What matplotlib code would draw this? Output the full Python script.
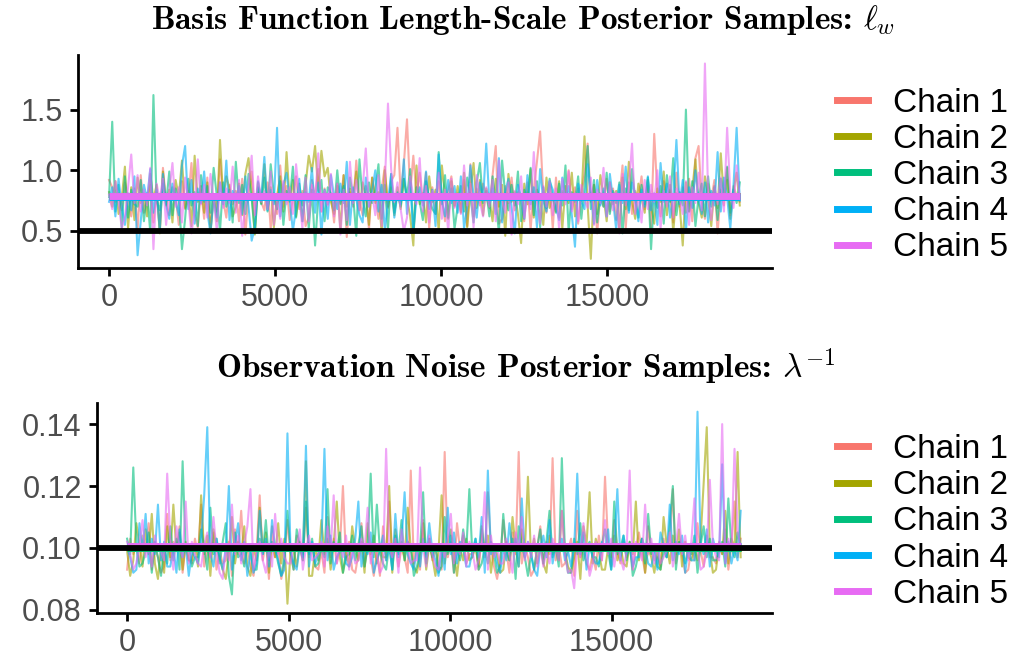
import numpy as np
import matplotlib
matplotlib.use("Agg")
import matplotlib.pyplot as plt
from matplotlib.lines import Line2D

chain_names = ["Chain 1", "Chain 2", "Chain 3", "Chain 4", "Chain 5"]
chain_colors = ["#F8766D", "#A3A500", "#00BF7D", "#00B0F6", "#E76BF3"]
n_iter = 19000

top_title = r"Basis Function Length-Scale Posterior Samples: $\ell_w$"
bottom_title = r"Observation Noise Posterior Samples: $\lambda^{-1}$"
top_true = 0.5
bottom_true = 0.10
top_yticks = [0.5, 1.0, 1.5]
top_yticklabels = ["0.5", "1.0", "1.5"]
bottom_yticks = [0.08, 0.10, 0.12, 0.14]
bottom_yticklabels = ["0.08", "0.10", "0.12", "0.14"]
xticks = [0, 5000, 10000, 15000]

# length-scale samples (thinned), one list per chain
ls_chain1 = [0.92, 0.86, 0.74, 0.81, 0.67, 0.90, 0.77, 0.62, 0.85, 0.51,
             0.96, 0.65, 0.78, 0.88, 0.57, 0.82, 0.50, 1.02, 0.74, 0.63,
             0.86, 0.79, 0.55, 0.91, 0.68, 0.76, 1.06, 0.64, 0.53, 0.84,
             0.60, 0.94, 0.49, 0.80, 0.66, 1.09, 0.75, 0.61, 0.88, 0.72,
             0.83, 0.58, 0.93, 0.47, 0.79, 0.99, 0.63, 0.86, 0.74, 0.67,
             0.90, 0.52, 0.81, 0.64, 1.04, 0.70, 0.87, 0.59, 0.78, 0.95,
             0.68, 0.83, 0.54, 0.61, 0.92, 0.77, 1.01, 0.66, 0.85, 0.72,
             0.80, 0.57, 0.89, 0.73, 0.96, 0.45, 0.82, 0.70, 1.08, 0.76,
             0.63, 0.87, 0.51, 0.94, 0.79, 0.60, 0.84, 1.03, 0.69, 0.91,
             0.96, 1.35, 0.80, 1.05, 1.42, 0.82, 1.12, 0.79, 0.98, 0.74,
             0.98, 0.52, 0.86, 0.64, 0.91, 0.77, 0.58, 0.83, 0.95, 0.70,
             0.81, 0.66, 0.92, 0.54, 1.05, 0.62, 0.85, 0.71, 0.89, 0.78,
             0.69, 0.96, 1.20, 0.56, 0.60, 0.87, 0.73, 0.94, 0.67, 0.82,
             0.75, 0.58, 0.90, 0.51, 0.84, 1.07, 1.32, 0.79, 0.65, 0.88,
             0.52, 0.94, 0.61, 0.83, 0.77, 1.00, 0.68, 0.86, 0.56, 0.80,
             0.97, 1.22, 0.74, 0.88, 0.48, 0.81, 0.70, 0.93, 0.66, 0.85,
             0.59, 0.78, 1.04, 0.52, 0.90, 0.64, 0.83, 0.76, 0.95, 0.68,
             0.87, 0.53, 1.30, 0.80, 0.62, 0.91, 0.75, 0.84, 0.57, 0.98,
             0.70, 0.86, 0.65, 0.93, 0.58, 1.10, 1.20, 0.74, 0.60, 0.89,
             0.76, 0.92, 0.48, 0.84, 0.71, 1.02, 0.63, 0.87, 0.79, 0.74]
ls_chain2 = [0.82, 0.70, 0.91, 0.64, 0.77, 1.03, 0.52, 0.86, 0.59, 0.94,
             0.73, 0.81, 0.62, 0.97, 0.76, 0.88, 0.48, 0.99, 0.71, 0.84,
             0.57, 0.92, 0.78, 1.08, 0.69, 0.83, 0.54, 1.12, 0.74, 0.87,
             0.65, 0.90, 0.50, 0.80, 0.58, 1.25, 0.76, 0.95, 0.85, 0.62,
             0.70, 0.89, 0.63, 0.97, 1.10, 0.82, 0.47, 0.90, 0.73, 1.05,
             0.68, 0.86, 0.53, 0.79, 0.95, 0.66, 1.15, 0.74, 0.92, 0.62,
             0.81, 0.58, 0.88, 1.12, 0.99, 1.20, 0.83, 1.16, 0.95, 1.02,
             0.74, 0.64, 0.87, 0.51, 0.96, 0.70, 0.85, 0.75, 0.99, 0.67,
             0.90, 0.78, 0.55, 0.94, 0.73, 0.82, 0.49, 1.00, 0.70, 0.86,
             0.63, 0.86, 0.68, 0.93, 0.77, 0.62, 0.38, 1.04, 0.72, 0.81,
             0.57, 0.95, 0.74, 0.84, 0.50, 1.04, 0.79, 0.60, 0.91, 0.71,
             0.87, 0.65, 0.98, 0.53, 0.83, 1.06, 0.69, 0.92, 0.63, 0.85,
             0.76, 0.58, 0.93, 0.70, 0.88, 0.46, 0.97, 0.74, 0.82, 0.64,
             0.40, 0.89, 0.72, 1.01, 0.61, 0.84, 0.77, 0.55, 0.94, 0.69,
             0.80, 0.66, 0.91, 0.52, 0.87, 0.73, 0.98, 0.62, 0.85, 0.75,
             1.28, 0.71, 0.27, 0.88, 0.64, 0.96, 0.79, 0.58, 0.90, 0.72,
             0.83, 0.51, 0.94, 0.68, 1.07, 0.75, 0.60, 0.89, 0.77, 0.65,
             0.92, 0.70, 0.56, 0.85, 0.74, 0.99, 0.63, 0.88, 0.49, 0.81,
             0.72, 0.38, 0.90, 0.66, 0.84, 1.09, 0.73, 0.61, 0.95, 0.78,
             0.54, 0.87, 0.69, 1.14, 0.76, 0.92, 0.60, 0.83, 0.98, 0.71]
ls_chain3 = [0.78, 1.40, 0.66, 0.88, 0.53, 0.95, 0.61, 0.84, 0.72, 0.70,
             0.92, 0.58, 0.81, 0.49, 1.62, 0.75, 0.67, 0.89, 0.72, 0.99,
             0.63, 0.85, 0.77, 0.35, 0.60, 0.93, 0.71, 0.82, 0.54, 0.96,
             0.74, 0.87, 0.65, 1.02, 0.79, 0.50, 0.90, 0.70, 0.84, 0.57,
             1.07, 0.73, 0.88, 0.64, 0.97, 0.76, 0.48, 0.86, 0.72, 0.94,
             0.66, 1.05, 0.80, 0.68, 0.91, 0.55, 0.83, 0.75, 1.03, 0.61,
             0.89, 0.71, 0.96, 0.52, 0.84, 0.38, 0.77, 0.92, 0.58, 0.86,
             0.81, 0.67, 1.00, 0.72, 0.87, 0.55, 0.94, 0.79, 0.46, 1.09,
             0.76, 0.62, 0.90, 0.73, 0.84, 1.05, 0.60, 0.88, 0.51, 0.97,
             0.65, 0.82, 0.70, 0.93, 0.78, 1.01, 0.49, 0.86, 0.74, 0.59,
             0.91, 0.77, 0.68, 0.64, 1.15, 0.72, 0.96, 0.61, 0.85, 0.52,
             0.70, 0.87, 0.66, 0.94, 0.79, 0.57, 0.90, 1.06, 0.73, 0.83,
             0.62, 0.95, 0.74, 0.49, 1.08, 0.80, 0.67, 0.88, 0.71, 0.99,
             0.58, 0.84, 0.76, 1.02, 0.63, 0.91, 0.53, 0.86, 0.69, 0.93,
             0.77, 0.65, 0.89, 0.71, 1.04, 0.50, 0.82, 0.74, 0.95, 0.60,
             0.86, 1.20, 0.68, 0.92, 0.57, 0.79, 0.70, 0.98, 0.64, 0.83,
             0.73, 0.90, 0.48, 0.85, 0.67, 1.01, 0.76, 0.61, 0.88, 0.72,
             0.94, 0.35, 0.80, 0.69, 0.87, 0.56, 0.96, 0.74, 1.10, 0.63,
             0.82, 0.71, 1.50, 0.66, 0.91, 0.54, 0.78, 0.89, 0.62, 0.95,
             0.70, 0.86, 0.59, 0.93, 0.77, 1.03, 0.65, 0.84, 0.73, 0.90]
ls_chain4 = [0.74, 0.86, 0.62, 0.93, 0.70, 0.55, 0.81, 0.67, 0.95, 0.30,
             0.58, 0.88, 0.76, 1.01, 0.65, 0.84, 0.50, 0.97, 0.71, 0.60,
             0.89, 0.75, 0.63, 1.04, 1.20, 0.68, 0.92, 0.56, 0.85, 0.73,
             0.99, 0.66, 0.48, 0.77, 0.61, 0.90, 0.72, 1.08, 0.59, 0.83,
             0.74, 0.87, 0.64, 0.95, 0.70, 0.42, 0.53, 0.91, 0.76, 1.11,
             0.67, 0.84, 0.72, 1.35, 0.62, 0.88, 0.98, 0.75, 0.50, 0.69,
             0.93, 0.58, 0.82, 0.74, 1.02, 0.65, 0.90, 0.47, 0.84, 0.60,
             0.96, 0.78, 0.68, 0.89, 0.73, 1.07, 0.55, 0.86, 0.76, 0.63,
             0.57, 0.94, 0.70, 0.83, 1.00, 0.66, 0.88, 0.51, 0.74, 0.97,
             0.61, 0.81, 0.72, 1.09, 0.64, 0.90, 0.49, 0.77, 0.86, 0.71,
             0.99, 0.68, 0.84, 0.54, 1.13, 0.75, 0.62, 0.92, 0.73, 0.87,
             0.65, 0.95, 0.52, 0.70, 1.04, 0.79, 0.61, 0.90, 0.76, 1.22,
             0.73, 0.85, 0.64, 1.10, 0.57, 0.82, 0.93, 0.69, 0.48, 0.88,
             0.78, 0.60, 0.96, 0.72, 0.86, 0.53, 1.01, 0.75, 0.66, 0.91,
             0.84, 0.70, 0.59, 0.94, 0.77, 0.87, 0.63, 0.37, 0.89, 0.74,
             0.68, 1.05, 0.80, 0.56, 0.92, 0.71, 0.85, 0.62, 0.97, 0.76,
             0.51, 0.88, 0.73, 1.03, 0.65, 0.90, 0.79, 0.58, 0.84, 0.70,
             0.95, 0.67, 0.81, 0.55, 1.06, 0.74, 0.89, 0.61, 0.78, 1.25,
             0.72, 0.92, 0.49, 0.86, 0.69, 1.00, 0.76, 0.64, 0.90, 0.57,
             0.83, 0.71, 1.15, 0.66, 0.94, 0.78, 0.52, 0.87, 1.35, 0.75]
ls_chain5 = [0.80, 0.68, 0.91, 0.75, 0.52, 0.62, 0.86, 1.13, 0.73, 0.96,
             0.66, 0.84, 0.71, 1.02, 0.35, 0.89, 0.76, 0.93, 0.55, 0.82,
             1.06, 0.70, 0.86, 0.57, 0.94, 0.74, 0.48, 0.67, 1.09, 0.72,
             0.88, 0.61, 0.97, 0.77, 0.50, 0.90, 0.69, 0.85, 0.73, 1.03,
             0.65, 0.92, 0.46, 0.70, 0.87, 1.12, 0.63, 0.95, 0.74, 0.83,
             0.68, 0.99, 0.55, 0.76, 0.60, 0.91, 0.72, 0.86, 0.64, 1.05,
             0.79, 0.52, 0.94, 0.58, 0.88, 0.75, 1.14, 0.66, 0.83, 0.71,
             0.97, 0.62, 0.89, 0.47, 0.84, 0.59, 1.07, 0.73, 0.92, 0.67,
             0.85, 1.18, 0.70, 0.81, 0.63, 0.96, 0.54, 0.88, 1.55, 1.01,
             0.74, 0.90, 0.68, 0.50, 0.61, 0.95, 0.78, 0.72, 1.10, 0.66,
             0.87, 0.57, 0.83, 0.75, 0.98, 0.60, 0.84, 0.49, 0.93, 0.69,
             0.79, 0.64, 1.04, 0.71, 0.89, 0.53, 0.96, 0.74, 0.62, 0.86,
             0.70, 0.92, 0.58, 1.08, 0.76, 0.65, 0.90, 0.47, 0.83, 0.72,
             0.95, 0.61, 0.80, 0.68, 1.15, 0.74, 0.56, 0.87, 0.70, 0.91,
             0.63, 0.85, 0.51, 0.93, 0.72, 0.99, 0.66, 0.81, 0.58, 0.88,
             0.76, 0.69, 0.94, 0.55, 0.84, 0.73, 1.02, 0.62, 0.90, 0.67,
             0.82, 0.48, 0.97, 0.71, 0.86, 1.22, 0.64, 0.79, 0.57, 0.92,
             0.68, 0.88, 0.74, 1.00, 0.52, 0.83, 0.70, 0.95, 0.61, 0.85,
             0.78, 0.64, 0.91, 0.55, 0.86, 0.73, 0.98, 0.67, 1.88, 0.80,
             0.59, 0.87, 0.72, 0.94, 0.66, 1.35, 0.81, 0.69, 1.04, 0.76]

# observation-noise samples (thinned), one list per chain
noise_chain1 = [0.093, 0.103, 0.098, 0.101, 0.095, 0.104, 0.099, 0.108, 0.093, 0.100,
                0.097, 0.092, 0.094, 0.111, 0.096, 0.102, 0.099, 0.107, 0.092, 0.101,
                0.096, 0.095, 0.103, 0.098, 0.114, 0.094, 0.100, 0.097, 0.105, 0.093,
                0.099, 0.095, 0.096, 0.102, 0.091, 0.106, 0.098, 0.112, 0.095, 0.101,
                0.094, 0.091, 0.099, 0.117, 0.096, 0.102, 0.090, 0.107, 0.097, 0.100,
                0.090, 0.095, 0.109, 0.098, 0.093, 0.104, 0.100, 0.096, 0.113, 0.097,
                0.101, 0.094, 0.093, 0.099, 0.092, 0.110, 0.097, 0.103, 0.095, 0.100,
                0.120, 0.096, 0.102, 0.093, 0.092, 0.098, 0.108, 0.094, 0.101, 0.097,
                0.091, 0.099, 0.091, 0.107, 0.096, 0.115, 0.098, 0.102, 0.094, 0.100,
                0.097, 0.092, 0.125, 0.095, 0.101, 0.093, 0.109, 0.098, 0.103, 0.096,
                0.100, 0.094, 0.093, 0.131, 0.097, 0.102, 0.092, 0.108, 0.099, 0.104,
                0.095, 0.098, 0.098, 0.101, 0.093, 0.106, 0.097, 0.118, 0.100, 0.094,
                0.090, 0.096, 0.109, 0.099, 0.092, 0.105, 0.098, 0.131, 0.095, 0.101,
                0.097, 0.091, 0.093, 0.100, 0.107, 0.095, 0.102, 0.098, 0.129, 0.096,
                0.101, 0.094, 0.095, 0.099, 0.103, 0.091, 0.112, 0.097, 0.100, 0.095,
                0.093, 0.098, 0.093, 0.104, 0.096, 0.123, 0.101, 0.094, 0.109, 0.099,
                0.095, 0.102, 0.097, 0.101, 0.093, 0.100, 0.105, 0.098, 0.092, 0.107,
                0.099, 0.096, 0.097, 0.094, 0.103, 0.097, 0.101, 0.119, 0.095, 0.102,
                0.098, 0.092, 0.093, 0.100, 0.096, 0.108, 0.099, 0.094, 0.104, 0.097,
                0.097, 0.095, 0.102, 0.098, 0.106, 0.093, 0.101, 0.115, 0.097, 0.103]
noise_chain2 = [0.099, 0.091, 0.096, 0.108, 0.101, 0.094, 0.106, 0.098, 0.111, 0.095,
                0.090, 0.100, 0.092, 0.107, 0.097, 0.114, 0.099, 0.105, 0.093, 0.102,
                0.096, 0.096, 0.101, 0.094, 0.117, 0.098, 0.104, 0.091, 0.106, 0.100,
                0.097, 0.093, 0.090, 0.099, 0.110, 0.095, 0.102, 0.098, 0.107, 0.094,
                0.091, 0.100, 0.096, 0.113, 0.099, 0.105, 0.092, 0.101, 0.097, 0.108,
                0.095, 0.103, 0.082, 0.099, 0.099, 0.094, 0.102, 0.098, 0.128, 0.091,
                0.091, 0.100, 0.096, 0.109, 0.098, 0.103, 0.093, 0.101, 0.115, 0.097,
                0.092, 0.099, 0.094, 0.107, 0.100, 0.096, 0.102, 0.092, 0.108, 0.098,
                0.104, 0.095, 0.101, 0.097, 0.097, 0.120, 0.092, 0.106, 0.099, 0.102,
                0.096, 0.113, 0.100, 0.094, 0.092, 0.098, 0.108, 0.093, 0.101, 0.097,
                0.091, 0.099, 0.117, 0.095, 0.102, 0.106, 0.098, 0.091, 0.100, 0.096,
                0.103, 0.096, 0.097, 0.101, 0.094, 0.107, 0.099, 0.104, 0.092, 0.100,
                0.098, 0.092, 0.093, 0.102, 0.096, 0.110, 0.100, 0.094, 0.106, 0.099,
                0.123, 0.097, 0.103, 0.095, 0.101, 0.095, 0.092, 0.104, 0.098, 0.100,
                0.096, 0.112, 0.099, 0.094, 0.092, 0.097, 0.102, 0.090, 0.107, 0.101,
                0.118, 0.095, 0.103, 0.099, 0.093, 0.093, 0.100, 0.097, 0.104, 0.096,
                0.101, 0.095, 0.094, 0.102, 0.098, 0.115, 0.096, 0.103, 0.092, 0.100,
                0.097, 0.092, 0.099, 0.093, 0.110, 0.101, 0.095, 0.104, 0.098, 0.106,
                0.094, 0.102, 0.097, 0.096, 0.100, 0.096, 0.103, 0.121, 0.139, 0.099,
                0.092, 0.093, 0.101, 0.098, 0.112, 0.095, 0.103, 0.100, 0.131, 0.097]
noise_chain3 = [0.103, 0.098, 0.126, 0.101, 0.094, 0.095, 0.099, 0.105, 0.092, 0.102,
                0.097, 0.091, 0.100, 0.095, 0.107, 0.096, 0.103, 0.093, 0.128, 0.099,
                0.101, 0.094, 0.097, 0.097, 0.106, 0.100, 0.093, 0.113, 0.098, 0.103,
                0.095, 0.102, 0.108, 0.091, 0.085, 0.105, 0.097, 0.098, 0.094, 0.101,
                0.099, 0.093, 0.093, 0.103, 0.098, 0.109, 0.096, 0.102, 0.100, 0.095,
                0.091, 0.097, 0.112, 0.099, 0.093, 0.106, 0.101, 0.096, 0.115, 0.098,
                0.103, 0.094, 0.095, 0.100, 0.097, 0.119, 0.095, 0.102, 0.099, 0.105,
                0.092, 0.097, 0.098, 0.104, 0.096, 0.101, 0.107, 0.094, 0.100, 0.124,
                0.097, 0.114, 0.099, 0.095, 0.093, 0.101, 0.093, 0.104, 0.098, 0.109,
                0.096, 0.102, 0.100, 0.091, 0.094, 0.099, 0.118, 0.095, 0.103, 0.097,
                0.101, 0.092, 0.094, 0.110, 0.098, 0.104, 0.092, 0.100, 0.096, 0.106,
                0.099, 0.119, 0.097, 0.103, 0.093, 0.095, 0.100, 0.095, 0.102, 0.098,
                0.092, 0.094, 0.111, 0.099, 0.096, 0.103, 0.090, 0.107, 0.101, 0.097,
                0.091, 0.098, 0.093, 0.100, 0.106, 0.095, 0.102, 0.112, 0.097, 0.101,
                0.094, 0.129, 0.099, 0.092, 0.092, 0.103, 0.098, 0.108, 0.096, 0.100,
                0.102, 0.097, 0.097, 0.094, 0.101, 0.106, 0.099, 0.093, 0.115, 0.098,
                0.100, 0.104, 0.096, 0.102, 0.091, 0.094, 0.099, 0.103, 0.095, 0.111,
                0.098, 0.101, 0.094, 0.093, 0.099, 0.097, 0.108, 0.120, 0.093, 0.102,
                0.100, 0.095, 0.100, 0.098, 0.104, 0.092, 0.101, 0.107, 0.097, 0.103,
                0.096, 0.096, 0.099, 0.102, 0.094, 0.116, 0.100, 0.097, 0.105, 0.101]
noise_chain4 = [0.100, 0.097, 0.092, 0.093, 0.108, 0.099, 0.111, 0.095, 0.103, 0.098,
                0.114, 0.096, 0.102, 0.094, 0.094, 0.100, 0.092, 0.106, 0.097, 0.101,
                0.091, 0.099, 0.097, 0.095, 0.102, 0.117, 0.139, 0.098, 0.094, 0.103,
                0.097, 0.093, 0.100, 0.120, 0.093, 0.101, 0.108, 0.096, 0.102, 0.091,
                0.099, 0.092, 0.095, 0.112, 0.098, 0.103, 0.094, 0.109, 0.100, 0.096,
                0.091, 0.093, 0.137, 0.099, 0.095, 0.093, 0.101, 0.097, 0.133, 0.094,
                0.102, 0.095, 0.098, 0.100, 0.132, 0.096, 0.104, 0.093, 0.097, 0.099,
                0.101, 0.095, 0.094, 0.097, 0.103, 0.115, 0.094, 0.100, 0.098, 0.105,
                0.092, 0.096, 0.099, 0.104, 0.096, 0.101, 0.093, 0.111, 0.097, 0.102,
                0.118, 0.098, 0.095, 0.093, 0.100, 0.094, 0.103, 0.097, 0.108, 0.099,
                0.096, 0.091, 0.101, 0.093, 0.113, 0.098, 0.105, 0.095, 0.102, 0.100,
                0.094, 0.094, 0.099, 0.103, 0.097, 0.110, 0.092, 0.125, 0.098, 0.101,
                0.095, 0.092, 0.100, 0.096, 0.108, 0.099, 0.103, 0.094, 0.116, 0.097,
                0.102, 0.098, 0.093, 0.091, 0.100, 0.104, 0.097, 0.109, 0.095, 0.101,
                0.099, 0.103, 0.096, 0.099, 0.094, 0.100, 0.124, 0.098, 0.105, 0.093,
                0.101, 0.097, 0.095, 0.095, 0.102, 0.099, 0.106, 0.093, 0.100, 0.119,
                0.096, 0.104, 0.098, 0.101, 0.094, 0.097, 0.097, 0.103, 0.100, 0.095,
                0.094, 0.099, 0.093, 0.105, 0.101, 0.097, 0.114, 0.096, 0.102, 0.098,
                0.104, 0.092, 0.100, 0.096, 0.096, 0.144, 0.101, 0.098, 0.106, 0.094,
                0.103, 0.099, 0.097, 0.127, 0.095, 0.102, 0.095, 0.100, 0.096, 0.112]
noise_chain5 = [0.102, 0.098, 0.093, 0.095, 0.101, 0.109, 0.097, 0.100, 0.094, 0.104,
                0.099, 0.099, 0.096, 0.124, 0.103, 0.093, 0.107, 0.100, 0.097, 0.115,
                0.095, 0.102, 0.098, 0.095, 0.094, 0.101, 0.105, 0.097, 0.110, 0.099,
                0.092, 0.090, 0.100, 0.096, 0.114, 0.098, 0.104, 0.095, 0.101, 0.107,
                0.119, 0.093, 0.099, 0.102, 0.096, 0.092, 0.100, 0.094, 0.111, 0.098,
                0.103, 0.097, 0.095, 0.095, 0.101, 0.099, 0.106, 0.093, 0.100, 0.104,
                0.096, 0.097, 0.098, 0.102, 0.094, 0.107, 0.099, 0.117, 0.095, 0.101,
                0.097, 0.104, 0.093, 0.100, 0.095, 0.096, 0.103, 0.099, 0.113, 0.095,
                0.101, 0.098, 0.092, 0.094, 0.132, 0.100, 0.097, 0.103, 0.092, 0.106,
                0.099, 0.102, 0.095, 0.096, 0.096, 0.126, 0.100, 0.094, 0.104, 0.098,
                0.094, 0.093, 0.101, 0.097, 0.103, 0.111, 0.095, 0.100, 0.098, 0.105,
                0.094, 0.102, 0.099, 0.093, 0.096, 0.101, 0.118, 0.093, 0.104, 0.097,
                0.100, 0.095, 0.095, 0.103, 0.098, 0.092, 0.105, 0.099, 0.110, 0.096,
                0.102, 0.097, 0.104, 0.094, 0.101, 0.094, 0.099, 0.095, 0.103, 0.100,
                0.096, 0.112, 0.098, 0.092, 0.093, 0.087, 0.101, 0.097, 0.108, 0.099,
                0.091, 0.095, 0.102, 0.100, 0.096, 0.109, 0.098, 0.103, 0.094, 0.101,
                0.097, 0.093, 0.099, 0.125, 0.093, 0.102, 0.100, 0.096, 0.114, 0.098,
                0.103, 0.095, 0.101, 0.095, 0.097, 0.099, 0.105, 0.094, 0.100, 0.111,
                0.098, 0.104, 0.096, 0.102, 0.116, 0.100, 0.093, 0.094, 0.099, 0.122,
                0.101, 0.097, 0.096, 0.140, 0.095, 0.103, 0.099, 0.132, 0.106, 0.100]

top_chains = [ls_chain1, ls_chain2, ls_chain3, ls_chain4, ls_chain5]
bottom_chains = [noise_chain1, noise_chain2, noise_chain3, noise_chain4, noise_chain5]

plt.rcParams["mathtext.fontset"] = "cm"
plt.rcParams["font.family"] = ["Liberation Sans", "DejaVu Sans"]

fig = plt.figure(figsize=(10.11, 6.61), dpi=100)
ax_top = fig.add_axes([0.0772, 0.5946, 0.6864, 0.3222])
ax_bot = fig.add_axes([0.0959, 0.0726, 0.6677, 0.3177])


def draw_panel(ax, chains, true_val, yticks, yticklabels, ylim, leg_x):
    for vals, col in zip(chains, chain_colors):
        v = np.asarray(vals)
        it = np.linspace(0, n_iter, len(v))
        ax.plot(it, v, color=col, lw=1.5, alpha=0.6, zorder=2)
    handles = []
    for vals, col, name in zip(chains, chain_colors, chain_names):
        v = np.asarray(vals)
        ax.hlines(np.mean(v), 0, n_iter, color=col, lw=5, zorder=4)
        handles.append(Line2D([], [], color=col, lw=5, label=name))
    ax.axhline(true_val, color="black", lw=4.2, zorder=5)
    ax.set_xlim(-934, 19970)
    ax.set_ylim(*ylim)
    ax.set_xticks(xticks)
    ax.set_xticklabels([str(t) for t in xticks])
    ax.set_yticks(yticks)
    ax.set_yticklabels(yticklabels)
    for s in ["top", "right"]:
        ax.spines[s].set_visible(False)
    for s in ["left", "bottom"]:
        ax.spines[s].set_linewidth(2.0)
        ax.spines[s].set_color("black")
    ax.tick_params(axis="both", length=6, width=2.0, color="black",
                   labelcolor="#4D4D4D", labelsize=22, pad=5)
    ax.legend(handles=handles, loc="center left",
              bbox_to_anchor=(leg_x, 0.434), frameon=False, fontsize=24,
              handlelength=0.92, handletextpad=0.75, labelspacing=0.155,
              borderaxespad=0)


draw_panel(ax_top, top_chains, top_true, top_yticks, top_yticklabels,
           (0.195, 1.95), 1.075)
draw_panel(ax_bot, bottom_chains, bottom_true, bottom_yticks,
           bottom_yticklabels, (0.079, 0.1468), 1.077)

fig.text(0.517, 0.970, top_title, ha="center", va="center",
         fontsize=24, family="cmb10")
fig.text(0.520, 0.446, bottom_title, ha="center", va="center",
         fontsize=24, family="cmb10")

fig.savefig("out.png", dpi=100)
